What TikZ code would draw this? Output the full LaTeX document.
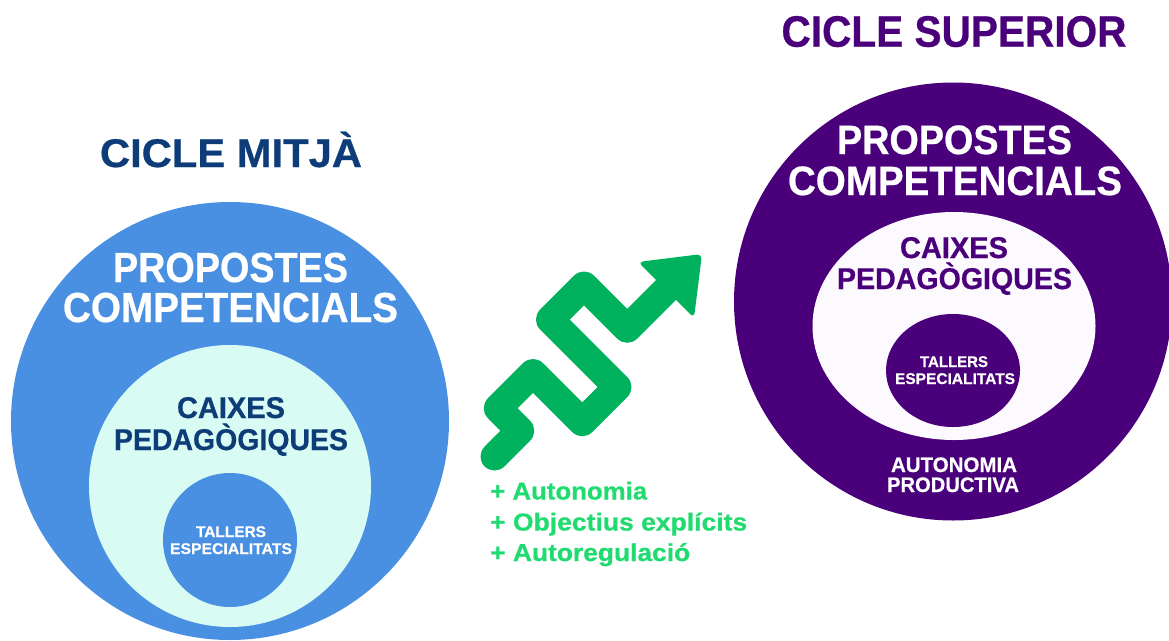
\documentclass[tikz,border=0pt]{standalone}
\usepackage{fontspec}
\setmainfont{Liberation Sans}[BoldFeatures={FakeBold=0.6}]
\usepackage{graphicx}
\definecolor{cblue}{HTML}{4A90E2}
\definecolor{clight}{HTML}{D8FCF4}
\definecolor{cdark}{HTML}{0D3C78}
\definecolor{cpurple}{HTML}{4A007A}
\definecolor{cwhite}{HTML}{FCF9FF}
\definecolor{carrow}{HTML}{00B25E}
\definecolor{cgreen}{HTML}{1FDB70}
\newcommand\fitw[2]{\resizebox{#1}{\height}{#2}}
\begin{document}
\begin{tikzpicture}[x=1pt,y=-1pt,
  txt/.style={inner sep=0pt, anchor=base},
  fs/.style={font=\bfseries\fontsize{#1}{#1}\selectfont}]
\useasboundingbox (0,0) rectangle (1169,640);
\fill[white] (0,0) rectangle (1169,640);
% left circles
\fill[cblue] (230,421) circle[radius=219];
\fill[clight] (230,486) circle[radius=141];
\fill[cblue] (230,540) circle[radius=67];
% right circles
\fill[cpurple] (953,301.5) circle[radius=219];
\fill[cwhite] (954,326) ellipse[x radius=141.5, y radius=114];
\fill[cpurple] (953,370.5) ellipse[x radius=67, y radius=56.5];
% headings
\node[txt, fs=40, text=cdark] (mitja) at (231,167) {\fitw{262pt}{CICLE MITJÀ}};
\node[txt, fs=44, text=cpurple] (superior) at (954,46.7) {\fitw{345pt}{CICLE SUPERIOR}};
% left texts
\node[txt, fs=42, text=white] (lp1) at (230.5,282) {\fitw{235pt}{PROPOSTES}};
\node[txt, fs=42, text=white] (lp2) at (230.5,322) {\fitw{335pt}{COMPETENCIALS}};
\node[txt, fs=30, text=cdark] (lc1) at (231,418) {\fitw{108pt}{CAIXES}};
\node[txt, fs=30, text=cdark] (lc2) at (231,450) {\fitw{234pt}{PEDAGÒGIQUES}};
\node[txt, fs=15.5, text=white] (lt1) at (231,537) {\fitw{70pt}{TALLERS}};
\node[txt, fs=15.5, text=white] (lt2) at (231,554) {\fitw{122pt}{ESPECIALITATS}};
% right texts
\node[txt, fs=41, text=white] (rp1) at (954.5,154) {\fitw{235pt}{PROPOSTES}};
\node[txt, fs=41, text=white] (rp2) at (955,195) {\fitw{334pt}{COMPETENCIALS}};
\node[txt, fs=30, text=cpurple] (rc1) at (954,258) {\fitw{108pt}{CAIXES}};
\node[txt, fs=30, text=cpurple] (rc2) at (954.5,289) {\fitw{235pt}{PEDAGÒGIQUES}};
\node[txt, fs=15.5, text=white] (rt1) at (954,367) {\fitw{68pt}{TALLERS}};
\node[txt, fs=15.5, text=white] (rt2) at (955,384) {\fitw{120pt}{ESPECIALITATS}};
\node[txt, fs=21, text=white] (ra1) at (954,472) {\fitw{126pt}{AUTONOMIA}};
\node[txt, fs=21, text=white] (ra2) at (953,492) {\fitw{132pt}{PRODUCTIVA}};
% arrow
\draw[carrow, line width=28pt, line join=round, line cap=round]
  (494.5,456.5) -- (520.25,430.75) -- (497.75,408.25) -- (533,373)
  -- (582.25,422.25) -- (617.45,387.05) -- (549.95,319.55) -- (584,285.5)
  -- (627.25,328.75) -- (666,290);
\fill[carrow, rounded corners=5pt] (702,254) -- (638,262) -- (694,318) -- cycle;
% green list
\node[txt, anchor=base west, fs=24.5, text=cgreen] (g1) at (490,499.5) {\fitw{157pt}{+ Autonomia}};
\node[txt, anchor=base west, fs=24.5, text=cgreen] (g2) at (490,530.5) {\fitw{257pt}{+ Objectius explícits}};
\node[txt, anchor=base west, fs=24.5, text=cgreen] (g3) at (490,561) {\fitw{200pt}{+ Autoregulació}};
\end{tikzpicture}
\end{document}
